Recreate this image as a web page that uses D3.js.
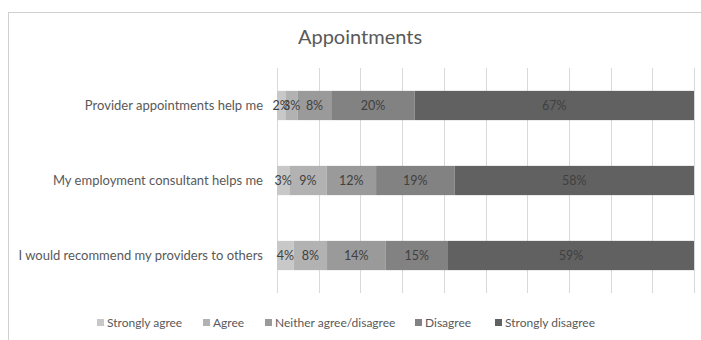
<!DOCTYPE html>
<html>
<head>
<meta charset="utf-8">
<script src="https://cdn.jsdelivr.net/npm/d3@7"></script>
<style>
  html, body { margin: 0; padding: 0; background: #fff; }
  svg { display: block; font-family: Lato, "Open Sans", sans-serif; }
</style>
</head>
<body>
<svg id="chart" width="701" height="340"></svg>
<script>
// Survey statements, top to bottom
const statements = [
  "Provider appointments help me",
  "My employment consultant helps me",
  "I would recommend my providers to others"
];
// Response categories, in stacking order
const responses = ["Strongly agree", "Agree", "Neither agree/disagree", "Disagree", "Strongly disagree"];
// Percentage of respondents per category, one array per statement row
const stronglyAgree    = [2, 3, 4];
const agree            = [3, 9, 8];
const neither          = [8, 12, 14];
const disagree         = [20, 19, 15];
const stronglyDisagree = [67, 58, 59];
const xTicks = [0, 10, 20, 30, 40, 50, 60, 70, 80, 90, 100];

const colors = ["#c8c8c8", "#b2b2b2", "#9a9a9a", "#828282", "#616161"];

const rows = statements.map((s, i) => ({
  statement: s,
  "Strongly agree": stronglyAgree[i],
  "Agree": agree[i],
  "Neither agree/disagree": neither[i],
  "Disagree": disagree[i],
  "Strongly disagree": stronglyDisagree[i]
}));

const svg = d3.select("#chart");
const margin = { left: 277, right: 7, top: 68, bottom: 47 };
const W = 701, H = 340;
const innerW = W - margin.left - margin.right;
const innerH = H - margin.top - margin.bottom;

// chart frame
svg.append("rect")
  .attr("x", 8.5).attr("y", 12.5)
  .attr("width", 720).attr("height", 360)
  .attr("fill", "#fff").attr("stroke", "#d0d0d0").attr("stroke-width", 1);

// title
svg.append("text")
  .attr("x", 360).attr("y", 44)
  .attr("text-anchor", "middle")
  .attr("font-size", 20)
  .attr("fill", "#595959")
  .text("Appointments");

const g = svg.append("g").attr("transform", `translate(${margin.left},${margin.top})`);

// 100% stacked: each row normalised to its total
const series = d3.stack().keys(responses).offset(d3.stackOffsetExpand)(rows);

const x = d3.scaleLinear().domain([0, 1]).range([0, innerW]);
const y = d3.scaleBand().domain(statements).range([0, innerH]).paddingInner(0.61).paddingOuter(0.305);

// vertical gridlines
g.append("g")
  .selectAll("line")
  .data(xTicks)
  .join("line")
  .attr("x1", d => Math.round(x(d / 100)) + 0.5)
  .attr("x2", d => Math.round(x(d / 100)) + 0.5)
  .attr("y1", 0).attr("y2", innerH)
  .attr("stroke", "#d9d9d9").attr("stroke-width", 1);

// category axis (labels only)
const yAxis = g.append("g").call(d3.axisLeft(y).tickSize(0).tickPadding(14));
yAxis.select(".domain").remove();
yAxis.selectAll("text")
  .attr("font-family", "Lato, 'Open Sans', sans-serif")
  .attr("font-size", 13)
  .attr("fill", "#595959");

// bars
const layer = g.append("g")
  .selectAll("g")
  .data(series)
  .join("g")
  .attr("fill", (d, i) => colors[i]);

layer.selectAll("rect")
  .data(d => d)
  .join("rect")
  .attr("x", d => x(d[0]))
  .attr("y", d => y(d.data.statement))
  .attr("width", d => x(d[1]) - x(d[0]))
  .attr("height", y.bandwidth());

// value labels
const labels = g.append("g");
series.forEach(s => {
  labels.selectAll(null)
    .data(s)
    .join("text")
    .attr("x", d => (x(d[0]) + x(d[1])) / 2)
    .attr("y", d => y(d.data.statement) + y.bandwidth() / 2)
    .attr("dy", "0.36em")
    .attr("text-anchor", "middle")
    .attr("font-size", 12.5)
    .attr("fill", "#404040")
    .text(d => d.data[s.key] + "%");
});

// legend
const legendX = [97, 203, 265, 415, 495];
const legend = svg.append("g")
  .selectAll("g")
  .data(responses)
  .join("g")
  .attr("transform", (d, i) => `translate(${legendX[i]},323)`);
legend.append("rect")
  .attr("x", 0).attr("y", -4)
  .attr("width", 7).attr("height", 7)
  .attr("fill", (d, i) => colors[i]);
legend.append("text")
  .attr("x", 10).attr("y", 0)
  .attr("dy", "0.36em")
  .attr("font-size", 12)
  .attr("fill", "#595959")
  .text(d => d);
</script>
</body>
</html>
